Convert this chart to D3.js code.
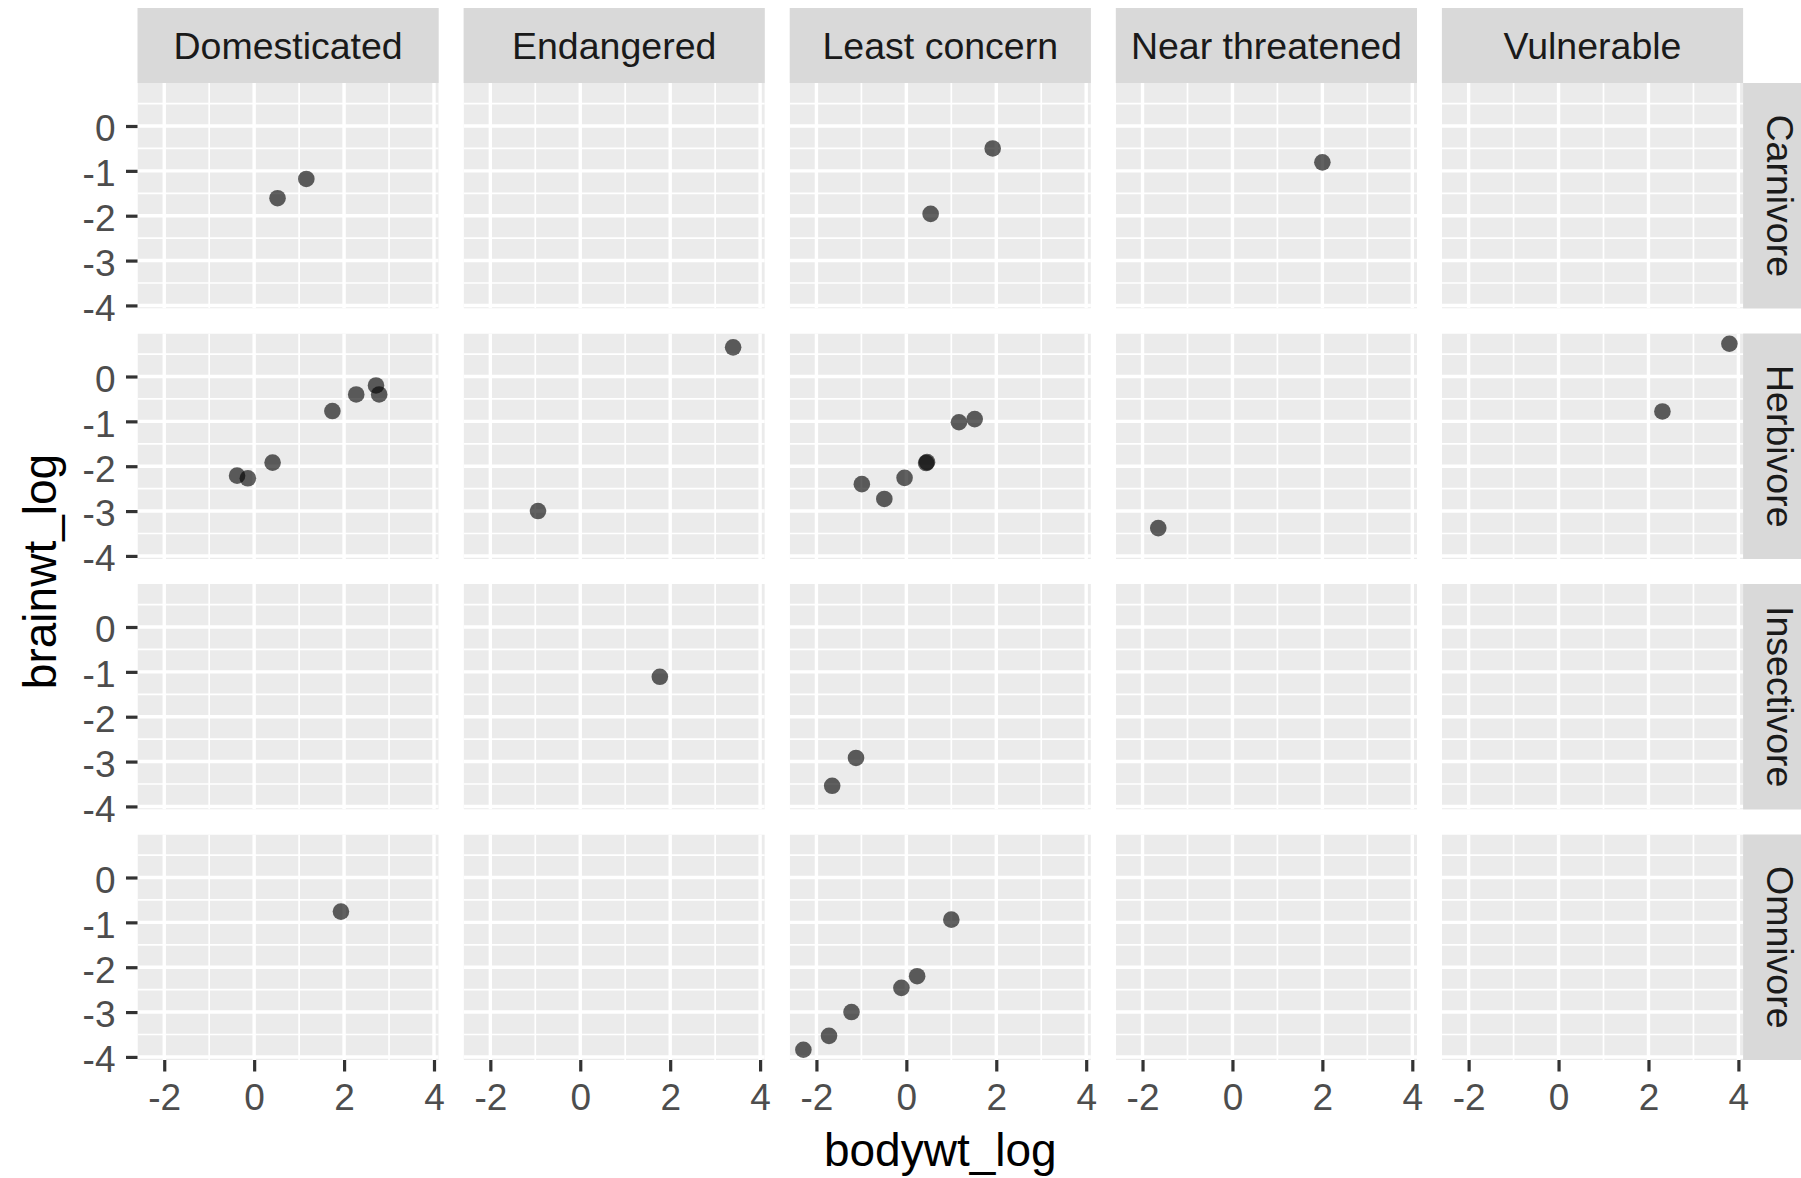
<!DOCTYPE html>
<html>
<head>
<meta charset="utf-8">
<script src="https://cdn.jsdelivr.net/npm/d3@7"></script>
<style>
  html, body { margin: 0; padding: 0; background: #fff; }
  svg { display: block; font-family: "Liberation Sans", Arial, Helvetica, sans-serif; }
</style>
</head>
<body>
<svg id="chart" width="1801" height="1178"></svg>
<script>
// ---- data ----
const columns = ["Domesticated", "Endangered", "Least concern", "Near threatened", "Vulnerable"];
const rows = ["Carnivore", "Herbivore", "Insectivore", "Omnivore"];
const xTicks = [-2, 0, 2, 4];
const yTicks = [0, -1, -2, -3, -4];

const pointConservation = [
  "Domesticated", "Domesticated", "Least concern", "Least concern", "Near threatened",
  "Domesticated", "Domesticated", "Domesticated", "Domesticated", "Domesticated", "Domesticated", "Domesticated",
  "Endangered", "Endangered",
  "Least concern", "Least concern", "Least concern", "Least concern", "Least concern", "Least concern", "Least concern",
  "Near threatened", "Vulnerable", "Vulnerable",
  "Endangered", "Least concern", "Least concern",
  "Domesticated", "Least concern", "Least concern", "Least concern", "Least concern", "Least concern", "Least concern"
];
const pointVore = [
  "Carnivore", "Carnivore", "Carnivore", "Carnivore", "Carnivore",
  "Herbivore", "Herbivore", "Herbivore", "Herbivore", "Herbivore", "Herbivore", "Herbivore",
  "Herbivore", "Herbivore",
  "Herbivore", "Herbivore", "Herbivore", "Herbivore", "Herbivore", "Herbivore", "Herbivore",
  "Herbivore", "Herbivore", "Herbivore",
  "Insectivore", "Insectivore", "Insectivore",
  "Omnivore", "Omnivore", "Omnivore", "Omnivore", "Omnivore", "Omnivore", "Omnivore"
];
const bodywtLog = [
  0.52, 1.16, 1.92, 0.54, 2.00,
  -0.38, -0.14, 0.41, 1.74, 2.27, 2.71, 2.78,
  -0.94, 3.40,
  -0.99, -0.49, -0.04, 0.44, 0.46, 1.17, 1.52,
  -1.65, 3.80, 2.31,
  1.77, -1.12, -1.65,
  1.93, -2.29, -1.72, -1.22, -0.11, 0.24, 1.00
];
const brainwtLog = [
  -1.61, -1.18, -0.50, -1.96, -0.81,
  -2.21, -2.27, -1.92, -0.77, -0.40, -0.20, -0.40,
  -3.00, 0.65,
  -2.40, -2.73, -2.26, -1.93, -1.91, -1.02, -0.95,
  -3.38, 0.73, -0.78,
  -1.11, -2.92, -3.54,
  -0.76, -3.84, -3.53, -3.00, -2.46, -2.20, -0.94
];

// ---- layout ----
const W = 1801, H = 1178;
const panelLeft = 137.5, panelW = 301.2, colGap = 24.9;
const panelTop = 83, panelH = 225.5, rowGap = 25;
const stripSize = 75;
const tickLen = 11.5;
const tickFont = 37, stripFont = 37.5, titleFont = 46;

const svg = d3.select("#chart");

const pts = bodywtLog.map((x, i) => ({
  x, y: brainwtLog[i], col: pointConservation[i], row: pointVore[i]
}));

function expand(ext) {
  const d = (ext[1] - ext[0]) * 0.05;
  return [ext[0] - d, ext[1] + d];
}
const xDom = expand(d3.extent(bodywtLog));
const yDom = expand(d3.extent(brainwtLog));

const xMinor = [-3, -1, 1, 3, 5].filter(v => v >= xDom[0] && v <= xDom[1]);
const yMinor = [0.5, -0.5, -1.5, -2.5, -3.5, -4.5].filter(v => v >= yDom[0] && v <= yDom[1]);

const colX = c => panelLeft + c * (panelW + colGap);
const rowY = r => panelTop + r * (panelH + rowGap);

const panelsRight = colX(columns.length - 1) + panelW;
const panelsBottom = rowY(rows.length - 1) + panelH;

// top strips
columns.forEach((name, c) => {
  const g = svg.append("g").attr("transform", `translate(${colX(c)},${panelTop - stripSize})`);
  g.append("rect").attr("width", panelW).attr("height", stripSize).attr("fill", "#D9D9D9");
  g.append("text").attr("x", panelW / 2).attr("y", stripSize / 2).attr("dy", "0.37em")
    .attr("text-anchor", "middle").attr("font-size", stripFont).attr("fill", "#1A1A1A").text(name);
});

// right strips
rows.forEach((name, r) => {
  const g = svg.append("g").attr("transform", `translate(${panelsRight},${rowY(r)})`);
  g.append("rect").attr("width", stripSize).attr("height", panelH).attr("fill", "#D9D9D9");
  g.append("text").attr("transform", `translate(${stripSize / 2},${panelH / 2}) rotate(90)`)
    .attr("dy", "0.36em").attr("text-anchor", "middle").attr("font-size", stripFont)
    .attr("fill", "#1A1A1A").text(name);
});

// panels
rows.forEach((rowName, r) => {
  columns.forEach((colName, c) => {
    const x0 = colX(c), y0 = rowY(r);
    const xs = d3.scaleLinear().domain(xDom).range([x0, x0 + panelW]);
    const ys = d3.scaleLinear().domain(yDom).range([y0 + panelH, y0]);
    const g = svg.append("g");
    const clipId = `clip-${r}-${c}`;
    svg.append("clipPath").attr("id", clipId).append("rect")
      .attr("x", x0).attr("y", y0).attr("width", panelW).attr("height", panelH);
    g.attr("clip-path", `url(#${clipId})`);
    g.append("rect").attr("x", x0).attr("y", y0).attr("width", panelW).attr("height", panelH).attr("fill", "#EBEBEB");
    // minor grid
    g.selectAll(".vmin").data(xMinor).enter().append("line")
      .attr("x1", d => xs(d)).attr("x2", d => xs(d)).attr("y1", y0).attr("y2", y0 + panelH)
      .attr("stroke", "#fff").attr("stroke-width", 1.7);
    g.selectAll(".hmin").data(yMinor).enter().append("line")
      .attr("y1", d => ys(d)).attr("y2", d => ys(d)).attr("x1", x0).attr("x2", x0 + panelW)
      .attr("stroke", "#fff").attr("stroke-width", 1.7);
    // major grid
    g.selectAll(".vmaj").data(xTicks).enter().append("line")
      .attr("x1", d => xs(d)).attr("x2", d => xs(d)).attr("y1", y0).attr("y2", y0 + panelH)
      .attr("stroke", "#fff").attr("stroke-width", 3.4);
    g.selectAll(".hmaj").data(yTicks).enter().append("line")
      .attr("y1", d => ys(d)).attr("y2", d => ys(d)).attr("x1", x0).attr("x2", x0 + panelW)
      .attr("stroke", "#fff").attr("stroke-width", 3.4);
    // points
    g.selectAll("circle").data(pts.filter(p => p.row === rowName && p.col === colName)).enter()
      .append("circle").attr("cx", d => xs(d.x)).attr("cy", d => ys(d.y)).attr("r", 8.3)
      .attr("fill", "#000").attr("fill-opacity", 0.62);

    // y axis on first column
    if (c === 0) {
      const ax = svg.append("g").attr("transform", `translate(${x0},0)`)
        .call(d3.axisLeft(ys).tickValues(yTicks).tickSize(tickLen).tickPadding(9).tickFormat(d3.format("d")));
      ax.select(".domain").remove();
      ax.selectAll(".tick line").attr("stroke", "#333333").attr("stroke-width", 3.2);
      ax.selectAll(".tick text").attr("font-size", tickFont).attr("fill", "#4D4D4D")
        .attr("font-family", "Liberation Sans, Arial, sans-serif").attr("dy", "0.4em").attr("x", -(tickLen + 10.5))
        .text(d => d < 0 ? "-" + Math.abs(d) : String(d));
    }
    // x axis on last row
    if (r === rows.length - 1) {
      const ax = svg.append("g").attr("transform", `translate(0,${y0 + panelH})`)
        .call(d3.axisBottom(xs).tickValues(xTicks).tickSize(tickLen).tickPadding(9));
      ax.select(".domain").remove();
      ax.selectAll(".tick line").attr("stroke", "#333333").attr("stroke-width", 3.2);
      ax.selectAll(".tick text").attr("font-size", tickFont).attr("fill", "#4D4D4D")
        .attr("font-family", "Liberation Sans, Arial, sans-serif").attr("dy", null).attr("y", 50)
        .text(d => d < 0 ? "-" + Math.abs(d) : String(d));
    }
  });
});

// axis titles
svg.append("text").attr("x", (panelLeft + panelsRight) / 2).attr("y", 1166)
  .attr("text-anchor", "middle").attr("font-size", titleFont).attr("fill", "#000").text("bodywt_log");
svg.append("text").attr("transform", `translate(55.5,${(panelTop + panelsBottom) / 2}) rotate(-90)`)
  .attr("text-anchor", "middle").attr("font-size", titleFont).attr("fill", "#000").text("brainwt_log");
</script>
</body>
</html>
